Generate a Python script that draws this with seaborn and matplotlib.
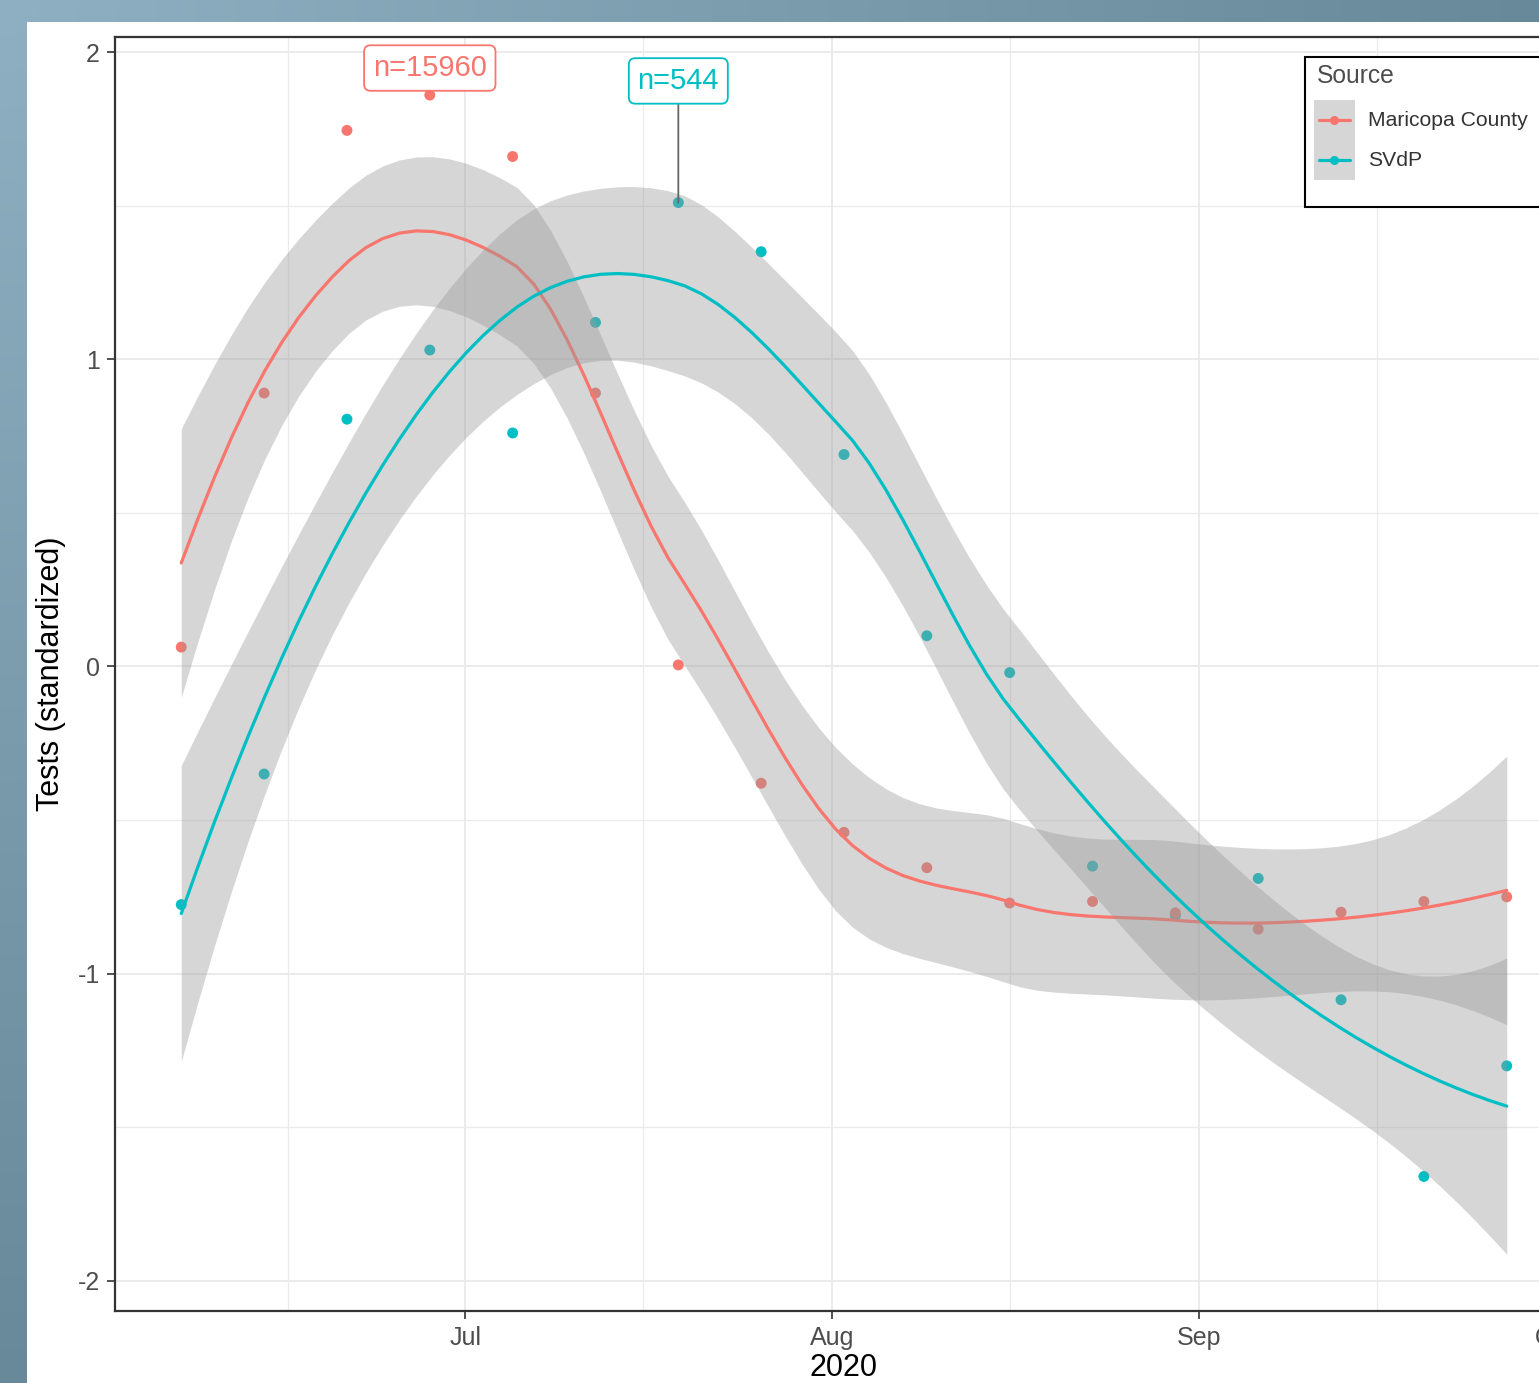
import math
import numpy as np
import pandas as pd
import matplotlib
matplotlib.use("Agg")
import matplotlib.pyplot as plt
import matplotlib.dates as mdates
from matplotlib.ticker import FixedLocator
from matplotlib.lines import Line2D
from matplotlib.patches import Rectangle
from matplotlib.legend_handler import HandlerBase
import seaborn as sns

# weekly values, standardized test counts
week_dates = pd.date_range("2020-06-07", "2020-09-27", freq="7D")
maricopa = [0.063, 0.89, 1.745, 1.86, 1.66, 0.89, 0.005, -0.38, -0.54, -0.655,
            -0.77, -0.765, -0.802, -0.855, -0.80, -0.765, -0.75]
svdp = [-0.775, -0.35, 0.805, 1.03, 0.76, 1.12, 1.51, 1.35, 0.69, 0.10,
        -0.02, -0.65, -0.81, -0.69, -1.085, -1.66, -1.30]
sources = ["Maricopa County", "SVdP"]
sample_n = [15960, 544]
label_y = [1.948, 1.906]
colors = ["#F8766D", "#00BFC4"]

W, H = 1539, 1383


def t_quantile(p, df):
    xs = np.linspace(0, 12, 24001)
    c = math.gamma((df + 1) / 2) / (math.sqrt(df * math.pi) * math.gamma(df / 2))
    pdf = c * (1 + xs ** 2 / df) ** (-(df + 1) / 2)
    cdf = 0.5 + np.concatenate([[0], np.cumsum((pdf[1:] + pdf[:-1]) / 2 * np.diff(xs))])
    return np.interp(p, cdf, xs)


def loess(x, y, grid, span=0.75, level=0.95, cell=0.2):
    # R-style loess: local quadratic fits at kd-tree vertices, cubic Hermite in between
    x = np.asarray(x, float)
    y = np.asarray(y, float)
    n = len(x)
    q = int(np.floor(n * span))
    fc = int(np.floor(n * span * cell))

    def local(x0):
        d = np.abs(x - x0)
        h = np.sort(d)[q - 1]
        w = np.clip(1 - (d / h) ** 3, 0, None) ** 3
        X = np.column_stack([np.ones(n), x - x0, (x - x0) ** 2])
        XtW = X.T * w
        B = np.linalg.solve(XtW @ X, XtW)
        return B[0], B[1]

    xs = np.sort(x)
    mu = 0.005 * (xs[-1] - xs[0])
    verts = [xs[0] - mu, xs[-1] + mu]

    def split(l, u, lo, hi):
        if u - l + 1 <= fc:
            return
        m = (l + u + 2) // 2 - 1
        t = xs[m]
        if t == lo or t == hi:
            return
        verts.append(t)
        split(l, m, lo, t)
        split(m + 1, u, t, hi)

    split(0, n - 1, verts[0], verts[1])
    verts = np.sort(verts)
    V, D = zip(*[local(v) for v in verts])

    def rows(pts):
        out = []
        for x0 in pts:
            i = min(max(np.searchsorted(verts, x0) - 1, 0), len(verts) - 2)
            h = verts[i + 1] - verts[i]
            s = (x0 - verts[i]) / h
            out.append((2 * s**3 - 3 * s**2 + 1) * V[i] + (s**3 - 2 * s**2 + s) * h * D[i]
                       + (-2 * s**3 + 3 * s**2) * V[i + 1] + (s**3 - s**2) * h * D[i + 1])
        return np.array(out)

    L = rows(x)
    Lg = rows(grid)
    fit = Lg @ y
    A = (np.eye(n) - L).T @ (np.eye(n) - L)
    d1, d2 = np.trace(A), np.trace(A @ A)
    sigma = np.sqrt(np.sum((y - L @ y) ** 2) / d1)
    se = sigma * np.sqrt((Lg ** 2).sum(1))
    t = t_quantile(0.5 + level / 2, d1 ** 2 / d2)
    return fit, fit - t * se, fit + t * se


class KeyHandler(HandlerBase):
    # ggplot-like key: grey ribbon square with line and point in the middle
    def create_artists(self, legend, orig_handle, xdescent, ydescent, width, height,
                       fontsize, trans):
        col = orig_handle.get_color()
        x0, y0 = -xdescent, -ydescent
        yc = y0 + height / 2
        rect = Rectangle((x0, y0), width, height, fc="#D6D6D6", ec="none", transform=trans)
        line = Line2D([x0 + 0.12 * width, x0 + 0.88 * width], [yc, yc], color=col,
                      lw=2.3, transform=trans)
        dot = Line2D([x0 + width / 2], [yc], color=col, marker="o", ms=5.5,
                     ls="none", transform=trans)
        return [rect, line, dot]


sns.set_theme(style="white")
plt.rcParams["font.family"] = ["Liberation Sans", "DejaVu Sans"]
plt.rcParams["axes.unicode_minus"] = False

fig = plt.figure(figsize=(W / 100, H / 100), dpi=100)

# slide-like gradient frame behind the chart
yy, xx = np.mgrid[0:H, 0:W]
t = np.clip(np.sqrt((xx / W) ** 2 + (yy / H) ** 2), 0, 1)[..., None]
light = np.array([142, 176, 194]) / 255
dark = np.array([104, 137, 153]) / 255
bg = light * (1 - t) + dark * t
bg[22:, 27:] = 1.0
fig.figimage(bg, xo=0, yo=0, origin="upper", zorder=-10)

ax = fig.add_axes([115 / W, 1 - 1311 / H, (1573 - 115) / W, (1311 - 37) / H])
ax.set_facecolor("white")

xnum = mdates.date2num(week_dates)
df = pd.concat([
    pd.DataFrame({"date": xnum, "value": svdp, "Source": "SVdP"}),
    pd.DataFrame({"date": xnum, "value": maricopa, "Source": "Maricopa County"}),
])
pal = dict(zip(sources, colors))
sns.scatterplot(data=df, x="date", y="value", hue="Source", palette=pal, s=62,
                edgecolor="none", legend=False, ax=ax, zorder=2)

grid = np.linspace(xnum.min(), xnum.max(), 80)
for vals, col in zip([maricopa, svdp], colors):
    fit, lo, hi = loess(xnum, vals, grid)
    ax.fill_between(grid, lo, hi, color="#999999", alpha=0.4, lw=0, zorder=3)
    sns.lineplot(x=grid, y=fit, color=col, lw=2.3, ax=ax, zorder=3)

# n= labels at each series peak
for vals, col, n, ly in zip([maricopa, svdp], colors, sample_n, label_y):
    i = int(np.argmax(vals))
    arrow = None
    if ly - vals[i] > 0.2:
        arrow = dict(arrowstyle="-", color="#666666", lw=1.3, shrinkA=0, shrinkB=0)
    ax.annotate(f"n={n}", xy=(xnum[i], vals[i]), xytext=(xnum[i], ly),
                ha="center", va="center", color=col, fontsize=21, zorder=6,
                arrowprops=arrow,
                bbox=dict(boxstyle="round,pad=0.3,rounding_size=0.22",
                          fc="white", ec=col, lw=1.3))

span = xnum.max() - xnum.min()
ax.set_xlim(xnum.min() - 0.05 * span, xnum.max() + 0.05 * span)
ax.set_ylim(-2.098, 2.049)
ax.xaxis.set_major_locator(mdates.MonthLocator())
ax.xaxis.set_major_formatter(mdates.DateFormatter("%b"))
ax.xaxis.set_minor_locator(mdates.MonthLocator(bymonthday=16))
ax.set_yticks([-2, -1, 0, 1, 2])
ax.set_yticklabels(["-2", "-1", "0", "1", "2"])
ax.yaxis.set_minor_locator(FixedLocator([-1.5, -0.5, 0.5, 1.5]))

ax.grid(which="major", color="#EBEBEB", lw=1.4)
ax.grid(which="minor", color="#EBEBEB", lw=0.9)
ax.set_axisbelow(True)
for s in ax.spines.values():
    s.set_visible(True)
    s.set_color("#333333")
    s.set_linewidth(1.6)
ax.tick_params(which="major", length=6, width=1.2, color="#333333",
               labelsize=18, labelcolor="#4D4D4D", pad=5, bottom=True, left=True)
ax.tick_params(which="minor", length=0)

ax.set_xlabel("2020", fontsize=22, color="black", labelpad=2)
ax.set_ylabel("Tests (standardized)", fontsize=22, color="black", labelpad=8)

# legend inside the panel, box running past the right edge like the screenshot
frame = Rectangle((1305 / W, 1 - 207 / H), (1640 - 1305) / W, (207 - 57) / H,
                  transform=fig.transFigure, fc="white", ec="black", lw=1.5,
                  zorder=9, clip_on=False)
ax.add_patch(frame)
ax.text(1317 / W, 1 - 64 / H, "Source", transform=fig.transFigure, va="top",
        ha="left", fontsize=17.7, color="#4D4D4D", zorder=11)
handles = [Line2D([], [], color=c) for c in colors]
leg = ax.legend(handles, sources, loc="upper left",
                bbox_to_anchor=(1314 / W, 1 - 100 / H), bbox_transform=fig.transFigure,
                handler_map={Line2D: KeyHandler()},
                fontsize=15.2, handlelength=1.94, handleheight=2.54,
                labelspacing=0, handletextpad=0.62, borderpad=0, borderaxespad=0,
                frameon=False)
for txt in leg.get_texts():
    txt.set_color("#333333")
leg.set_zorder(10)

fig.savefig("out.png", dpi=100)
